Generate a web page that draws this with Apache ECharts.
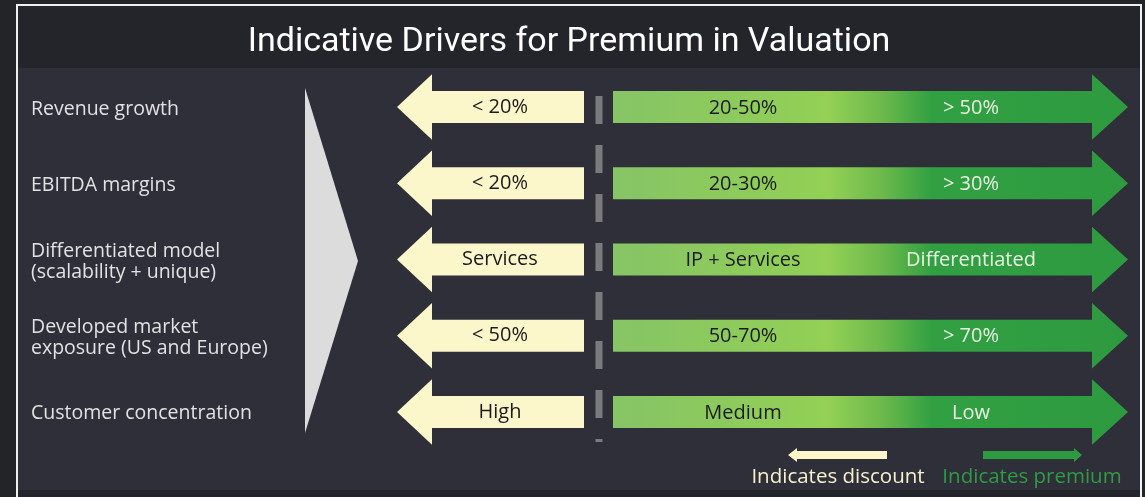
<!DOCTYPE html>
<html>
<head>
<meta charset="utf-8">
<title>Indicative Drivers for Premium in Valuation</title>
<style>
  html, body { margin: 0; padding: 0; background: #232428; }
  #main { width: 1145px; height: 497px; }
</style>
</head>
<body>
<div id="main"></div>
<script src="https://cdn.jsdelivr.net/npm/echarts@6/dist/echarts.min.js"></script>
<script>
// rows of the chart
var categories = [
  'Revenue growth',
  'EBITDA margins',
  'Differentiated model\n(scalability + unique)',
  'Developed market\nexposure (US and Europe)',
  'Customer concentration'
];
// text on the cream (discount) arrows
var discountLabels = ['< 20%', '< 20%', 'Services', '< 50%', 'High'];
// text on the green (premium) arrows, light part then dark part
var midLabels = ['20-50%', '20-30%', 'IP + Services', '50-70%', 'Medium'];
var premiumLabels = ['> 50%', '> 30%', 'Differentiated', '> 70%', 'Low'];
var legendLabels = ['Indicates discount', 'Indicates premium'];

var CREAM = '#fcf6cb';
var GREEN = '#2e9a40';
var FONT = 'Open Sans';

var chart = echarts.init(document.getElementById('main'));

function renderRow(params, api) {
  var i = api.value(0);
  var c = api.coord([0, i]);
  var cy = c[1] - 2;      // arrows sit a touch above the row label
  var band = api.size([0, 1])[1];
  var bh = band * 0.21;   // half body height
  var hh = band * 0.43;   // half head height
  var x = function (v) { return api.coord([v, i])[0]; };

  var cream = [
    [x(397), cy], [x(432), cy - hh], [x(432), cy - bh], [x(584), cy - bh],
    [x(584), cy + bh], [x(432), cy + bh], [x(432), cy + hh]
  ];
  var green = [
    [x(613), cy - bh], [x(1092), cy - bh], [x(1092), cy - hh], [x(1128), cy],
    [x(1092), cy + hh], [x(1092), cy + bh], [x(613), cy + bh]
  ];
  var font = '20px "' + FONT + '"';
  return {
    type: 'group',
    children: [
      { type: 'polygon', shape: { points: cream }, style: { fill: CREAM } },
      {
        type: 'polygon', shape: { points: green },
        style: {
          fill: new echarts.graphic.LinearGradient(0, 0, 1, 0, [
            { offset: 0, color: '#86c466' },
            { offset: 0.42, color: '#93d055' },
            { offset: 0.52, color: '#6dba4c' },
            { offset: 0.62, color: '#31a042' },
            { offset: 1, color: GREEN }
          ])
        }
      },
      {
        type: 'text', x: x(500), y: cy,
        style: { text: discountLabels[i], fill: '#1b1b1b', font: font, align: 'center', verticalAlign: 'middle' }
      },
      {
        type: 'text', x: x(743), y: cy + 1,
        style: { text: midLabels[i], fill: '#1b1b1b', font: font, align: 'center', verticalAlign: 'middle' }
      },
      {
        type: 'text', x: x(971), y: cy + 1,
        style: { text: premiumLabels[i], fill: '#e9f5e2', font: font, align: 'center', verticalAlign: 'middle' }
      }
    ]
  };
}

var option = {
  backgroundColor: '#232428',
  animation: false,
  grid: { left: 0, right: 0, top: 71, bottom: 45 },
  xAxis: { type: 'value', min: 0, max: 1145, show: false },
  yAxis: {
    type: 'category',
    data: categories,
    inverse: true,
    axisLine: { show: false },
    axisTick: { show: false },
    splitLine: { show: false },
    axisLabel: {
      inside: true,
      margin: 31,
      align: 'left',
      color: '#e2e2e2',
      fontFamily: FONT,
      fontSize: 19.5,
      lineHeight: 21
    }
  },
  graphic: [
    // frame and panels
    { type: 'rect', z: -10, shape: { x: 17, y: 5, width: 1124, height: 500 }, style: { fill: '#24252b', stroke: '#f0f0f0', lineWidth: 2 } },
    { type: 'rect', z: -9, shape: { x: 18, y: 68, width: 1122, height: 422 }, style: { fill: '#2e2f38' } },
    {
      type: 'text', z: 5, x: 569, y: 42,
      style: { text: 'Indicative Drivers for Premium in Valuation', fill: '#ffffff', font: '34px Roboto', align: 'center', verticalAlign: 'middle' }
    },
    // big grey wedge
    { type: 'polygon', z: 1, shape: { points: [[305, 88], [358, 261], [305, 433]] }, style: { fill: '#dcdcdc' } },
    // dashed divider
    { type: 'line', z: 1, shape: { x1: 599, y1: 96, x2: 599, y2: 442 }, style: { stroke: '#7b7b7b', lineWidth: 7, lineDash: [28, 21] } },
    // legend arrows
    { type: 'polygon', z: 5, shape: { points: [[788, 455], [797, 448], [797, 451], [887, 451], [887, 459], [797, 459], [797, 462]] }, style: { fill: CREAM } },
    { type: 'polygon', z: 5, shape: { points: [[983, 451], [1074, 451], [1074, 448], [1082, 455], [1074, 462], [1074, 459], [983, 459]] }, style: { fill: GREEN } },
    {
      type: 'text', z: 5, x: 838, y: 477,
      style: { text: legendLabels[0], fill: '#f7f1cf', font: '20.5px "' + FONT + '"', align: 'center', verticalAlign: 'middle' }
    },
    {
      type: 'text', z: 5, x: 1032, y: 477,
      style: { text: legendLabels[1], fill: '#2f9b45', font: '20.5px "' + FONT + '"', align: 'center', verticalAlign: 'middle' }
    }
  ],
  series: [{
    type: 'custom',
    renderItem: renderRow,
    data: categories.map(function (c, i) { return [i]; }),
    silent: true
  }]
};

chart.setOption(option);
</script>
</body>
</html>
